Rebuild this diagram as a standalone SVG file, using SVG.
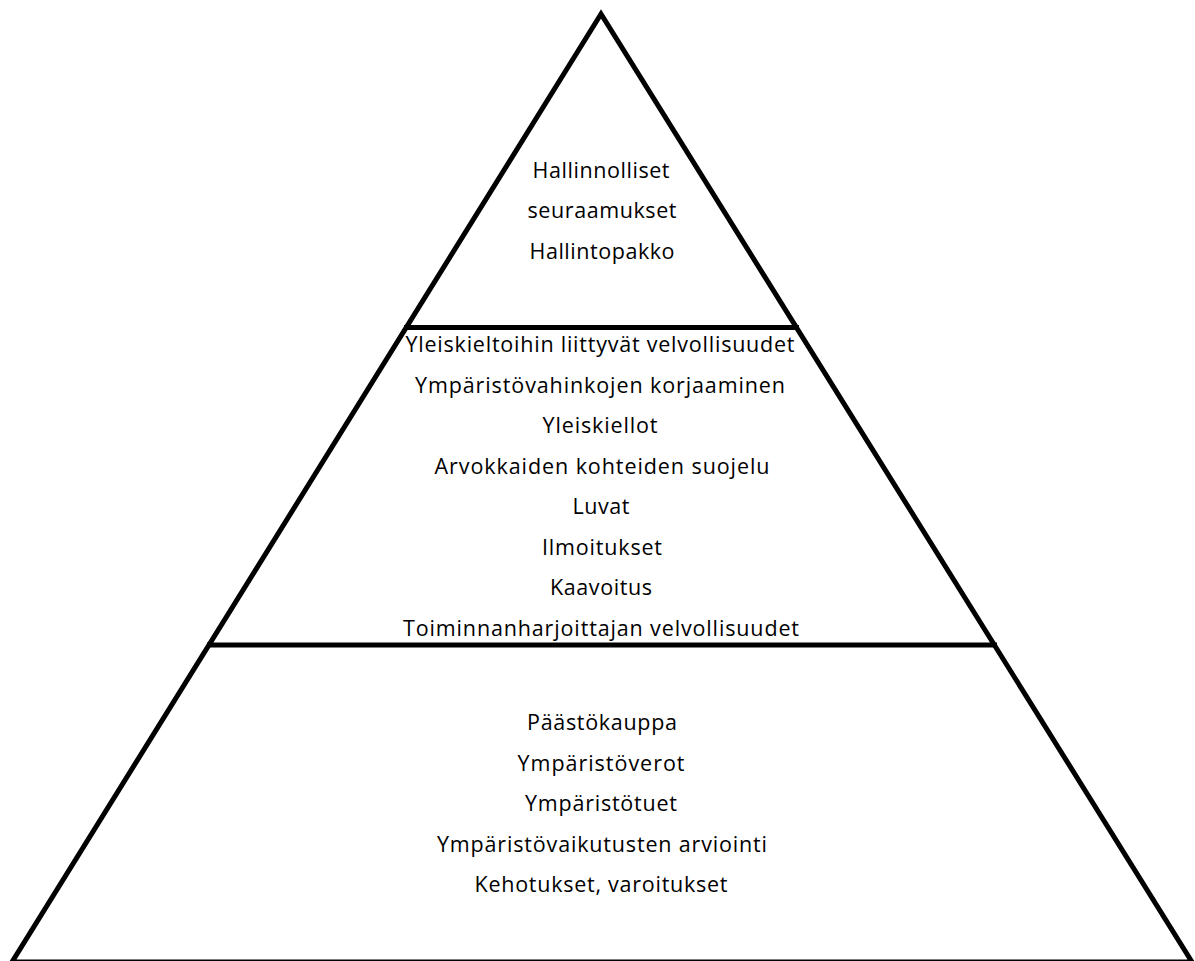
<svg xmlns="http://www.w3.org/2000/svg" width="1195" height="961" viewBox="0 0 1195 961">
<style>
.edge{fill:none;stroke:#000;stroke-width:5;stroke-linejoin:miter}
.t{font-family:"Open Sans","Liberation Sans",sans-serif;font-size:21.5px;fill:#000;text-anchor:middle}
</style>
<rect width="1195" height="961" fill="#fff"/>
<g id="connectors">
<polygon class="edge" points="601,14 12,962 1192,962"/>
<line class="edge" x1="404" y1="327.5" x2="799" y2="327.5"/>
<line class="edge" x1="207" y1="645" x2="997" y2="645"/>
</g>
<g id="top">
<text class="t" x="601" y="178" textLength="137">Hallinnolliset</text>
<text class="t" x="602" y="218" textLength="149">seuraamukset</text>
<text class="t" x="602" y="259" textLength="145">Hallintopakko</text>
</g>
<g id="middle">
<text class="t" x="600" y="352" textLength="389">Yleiskieltoihin liittyvät velvollisuudet</text>
<text class="t" x="600" y="393" textLength="370">Ympäristövahinkojen korjaaminen</text>
<text class="t" x="600" y="433" textLength="115">Yleiskiellot</text>
<text class="t" x="602" y="474" textLength="335">Arvokkaiden kohteiden suojelu</text>
<text class="t" x="601" y="514" textLength="57">Luvat</text>
<text class="t" x="602" y="555" textLength="120">Ilmoitukset</text>
<text class="t" x="601" y="595" textLength="102">Kaavoitus</text>
<text class="t" x="601" y="636" textLength="396">Toiminnanharjoittajan velvollisuudet</text>
</g>
<g id="bottom">
<text class="t" x="602" y="730" textLength="150">Päästökauppa</text>
<text class="t" x="601" y="771" textLength="167">Ympäristöverot</text>
<text class="t" x="601" y="811" textLength="152">Ympäristötuet</text>
<text class="t" x="602" y="852" textLength="330">Ympäristövaikutusten arviointi</text>
<text class="t" x="601" y="892" textLength="253">Kehotukset, varoitukset</text>
</g>
</svg>
